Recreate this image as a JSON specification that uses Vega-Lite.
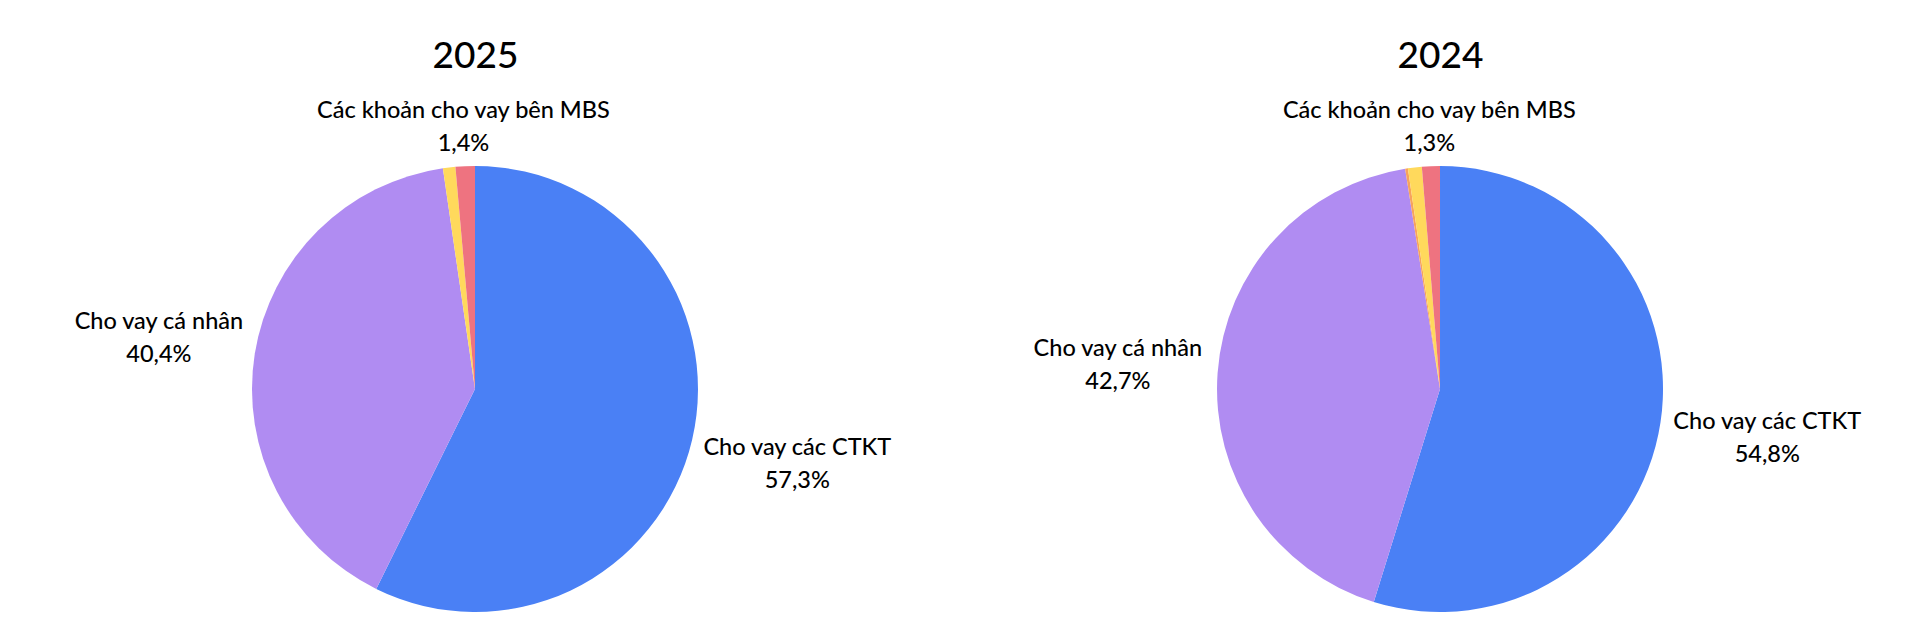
{
  "$schema": "https://vega.github.io/schema/vega-lite/v6.json",
  "width": 1915,
  "height": 446,
  "autosize": {"type": "none"},
  "padding": {"left": 0, "top": 166, "right": 5, "bottom": 32},
  "background": "white",
  "config": {
    "view": {"stroke": null},
    "locale": {"number": {"decimal": ",", "thousands": ".", "grouping": [3], "currency": ["", ""]}},
    "text": {"font": "Lato", "fontSize": 23.5, "fontWeight": 500, "color": "#000000"}
  },
  "data": {
    "values": [
      {"year": "2025", "cat": "Cho vay các CTKT", "share": 0.573, "k": 1},
      {"year": "2025", "cat": "Cho vay cá nhân", "share": 0.404, "k": 2},
      {"year": "2025", "cat": "Khác", "share": 0.009, "k": 4},
      {"year": "2025", "cat": "Các khoản cho vay bên MBS", "share": 0.014, "k": 5},
      {"year": "2024", "cat": "Cho vay các CTKT", "share": 0.548, "k": 1},
      {"year": "2024", "cat": "Cho vay cá nhân", "share": 0.427, "k": 2},
      {"year": "2024", "cat": "Khác (2)", "share": 0.002, "k": 3},
      {"year": "2024", "cat": "Khác", "share": 0.010, "k": 4},
      {"year": "2024", "cat": "Các khoản cho vay bên MBS", "share": 0.013, "k": 5}
    ]
  },
  "encoding": {
    "x": {
      "field": "year", "type": "ordinal", "sort": ["2025", "2024"],
      "scale": {"type": "point", "padding": 0.4922},
      "axis": {"orient": "top", "title": null, "domain": false, "ticks": false, "tickSize": 0, "grid": false, "labelAngle": 0, "labelFont": "Lato", "labelFontSize": 37, "labelFontWeight": 500, "labelColor": "#000000", "labelPadding": 99, "labelBaseline": "alphabetic"}
    },
    "theta": {"field": "share", "type": "quantitative", "stack": true, "scale": {"domain": [0, 1]}},
    "order": {"field": "k", "type": "quantitative", "sort": "ascending"},
    "detail": {"field": "cat", "type": "nominal"}
  },
  "layer": [
    {
      "transform": [{"filter": "datum.year === '2025'"}],
      "layer": [
        {
          "mark": {"type": "arc"},
          "encoding": {
            "color": {
              "field": "cat", "type": "nominal", "legend": null,
              "scale": {
                "domain": ["Cho vay các CTKT", "Cho vay cá nhân", "Khác (2)", "Khác", "Các khoản cho vay bên MBS"],
                "range": ["#4A80F5", "#B08CF2", "#F7A35C", "#FFD95C", "#EE7380"]
              }
            }
          }
        },
        {
          "mark": {"type": "text", "radius": 331, "dy": -16.5},
          "encoding": {"text": {"condition": {"test": "datum.cat === 'Cho vay các CTKT'", "field": "cat", "type": "nominal"}, "value": ""}}
        },
        {
          "mark": {"type": "text", "radius": 331, "dy": 16.5},
          "encoding": {"text": {"condition": {"test": "datum.cat === 'Cho vay các CTKT'", "field": "share", "type": "quantitative", "format": ".1%"}, "value": ""}}
        },
        {
          "mark": {"type": "text", "radius": 320, "dy": -16.5},
          "encoding": {"text": {"condition": {"test": "datum.cat === 'Cho vay cá nhân'", "field": "cat", "type": "nominal"}, "value": ""}}
        },
        {
          "mark": {"type": "text", "radius": 320, "dy": 16.5},
          "encoding": {"text": {"condition": {"test": "datum.cat === 'Cho vay cá nhân'", "field": "share", "type": "quantitative", "format": ".1%"}, "value": ""}}
        },
        {
          "mark": {"type": "text", "radius": 262, "dy": -16.5},
          "encoding": {"text": {"condition": {"test": "datum.cat === 'Các khoản cho vay bên MBS'", "field": "cat", "type": "nominal"}, "value": ""}}
        },
        {
          "mark": {"type": "text", "radius": 262, "dy": 16.5},
          "encoding": {"text": {"condition": {"test": "datum.cat === 'Các khoản cho vay bên MBS'", "field": "share", "type": "quantitative", "format": ".1%"}, "value": ""}}
        }
      ]
    },
    {
      "transform": [{"filter": "datum.year === '2024'"}],
      "layer": [
        {
          "mark": {"type": "arc"},
          "encoding": {
            "color": {"field": "cat", "type": "nominal", "legend": null}
          }
        },
        {
          "mark": {"type": "text", "radius": 331, "dy": -16.5},
          "encoding": {"text": {"condition": {"test": "datum.cat === 'Cho vay các CTKT'", "field": "cat", "type": "nominal"}, "value": ""}}
        },
        {
          "mark": {"type": "text", "radius": 331, "dy": 16.5},
          "encoding": {"text": {"condition": {"test": "datum.cat === 'Cho vay các CTKT'", "field": "share", "type": "quantitative", "format": ".1%"}, "value": ""}}
        },
        {
          "mark": {"type": "text", "radius": 323, "dy": -16.5},
          "encoding": {"text": {"condition": {"test": "datum.cat === 'Cho vay cá nhân'", "field": "cat", "type": "nominal"}, "value": ""}}
        },
        {
          "mark": {"type": "text", "radius": 323, "dy": 16.5},
          "encoding": {"text": {"condition": {"test": "datum.cat === 'Cho vay cá nhân'", "field": "share", "type": "quantitative", "format": ".1%"}, "value": ""}}
        },
        {
          "mark": {"type": "text", "radius": 262, "dy": -16.5},
          "encoding": {"text": {"condition": {"test": "datum.cat === 'Các khoản cho vay bên MBS'", "field": "cat", "type": "nominal"}, "value": ""}}
        },
        {
          "mark": {"type": "text", "radius": 262, "dy": 16.5},
          "encoding": {"text": {"condition": {"test": "datum.cat === 'Các khoản cho vay bên MBS'", "field": "share", "type": "quantitative", "format": ".1%"}, "value": ""}}
        }
      ]
    }
  ]
}
